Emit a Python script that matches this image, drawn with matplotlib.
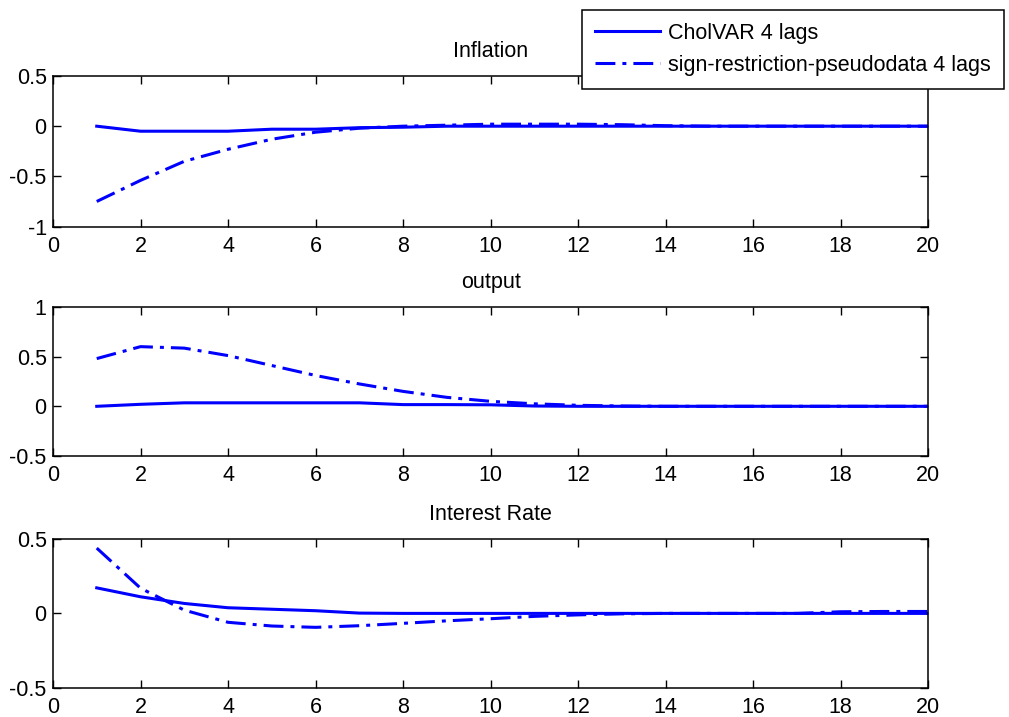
import numpy as np
import matplotlib
matplotlib.use("Agg")
import matplotlib.pyplot as plt

plt.rcParams['font.family'] = ['Liberation Sans', 'DejaVu Sans']
plt.rcParams['font.size'] = 15.5

# impulse responses over 20 periods
periods = np.arange(1, 21)

infl_chol = [0, -0.05, -0.05, -0.05, -0.03, -0.03, -0.015, -0.01, 0, 0,
             0, 0, 0, 0, 0, 0, 0, 0, 0, 0]
infl_sign = [-0.75, -0.54, -0.35, -0.23, -0.13, -0.06, -0.02, 0.0, 0.01, 0.02,
             0.02, 0.02, 0.015, 0.005, 0, 0, 0, 0, 0, 0]

out_chol = [0, 0.02, 0.035, 0.035, 0.035, 0.035, 0.035, 0.017, 0.017, 0.015,
            0.003, 0, 0, 0, 0, 0, 0, 0, 0, 0]
out_sign = [0.48, 0.60, 0.585, 0.51, 0.41, 0.31, 0.225, 0.15, 0.09, 0.05,
            0.025, 0.01, 0.003, 0, 0, 0, 0, 0, 0, 0]

rate_chol = [0.172, 0.112, 0.067, 0.038, 0.028, 0.018, 0.002, 0, 0, 0,
             0, 0, 0, 0, 0, 0, 0, 0, 0, 0]
rate_sign = [0.44, 0.17, 0.022, -0.06, -0.085, -0.094, -0.083, -0.067, -0.05, -0.036,
             -0.02, -0.01, -0.003, 0, 0, 0, 0, 0.011, 0.013, 0.013]

titles = ['Inflation', 'output', 'Interest Rate']
ylims = [(-1, 0.5), (-0.5, 1), (-0.5, 0.5)]
yticks = [[-1, -0.5, 0, 0.5], [-0.5, 0, 0.5, 1], [-0.5, 0, 0.5]]
labels = ['CholVAR 4 lags', 'sign-restriction-pseudodata 4 lags']

fig = plt.figure(figsize=(10.09, 7.17), dpi=100)
positions = [[0.0525, 0.684, 0.8675, 0.210],
             [0.0525, 0.364, 0.8675, 0.208],
             [0.0525, 0.041, 0.8675, 0.207]]
data = [(infl_chol, infl_sign), (out_chol, out_sign), (rate_chol, rate_sign)]

dashdot = (0, (6.5, 2.3, 1.3, 2.3))
handles = None
for pos, (chol, sign), title, yl, yt in zip(positions, data, titles, ylims, yticks):
    ax = fig.add_axes(pos)
    h1, = ax.plot(periods, chol, color='#0000ff', lw=2.2, solid_joinstyle='round')
    h2, = ax.plot(periods, sign, color='#0000ff', lw=2.2, linestyle=dashdot)
    handles = [h1, h2]
    ax.set_xlim(0, 20)
    ax.set_ylim(*yl)
    ax.set_xticks(range(0, 21, 2))
    ax.set_yticks(yt)
    ax.set_yticklabels([f'{v:g}' for v in yt])
    ax.tick_params(direction='in', length=6, width=1, top=True, right=True,
                   labelsize=15.5)
    ax.tick_params(axis='x', pad=6.5)
    ax.tick_params(axis='y', pad=4.5)
    for sp in ax.spines.values():
        sp.set_linewidth(1.1)
    ax.set_title(title, fontsize=15.5, pad=13.5)

leg = fig.legend(handles, labels, loc='upper left',
                 bbox_to_anchor=(582 / 1009, 1 - 10 / 717),
                 fontsize=15.5, handlelength=3.0, handletextpad=0.4,
                 borderpad=0.6, labelspacing=0.5, fancybox=False,
                 framealpha=1, edgecolor='black', borderaxespad=0)
leg.get_frame().set_linewidth(1.1)

fig.savefig('out.png', dpi=100)
